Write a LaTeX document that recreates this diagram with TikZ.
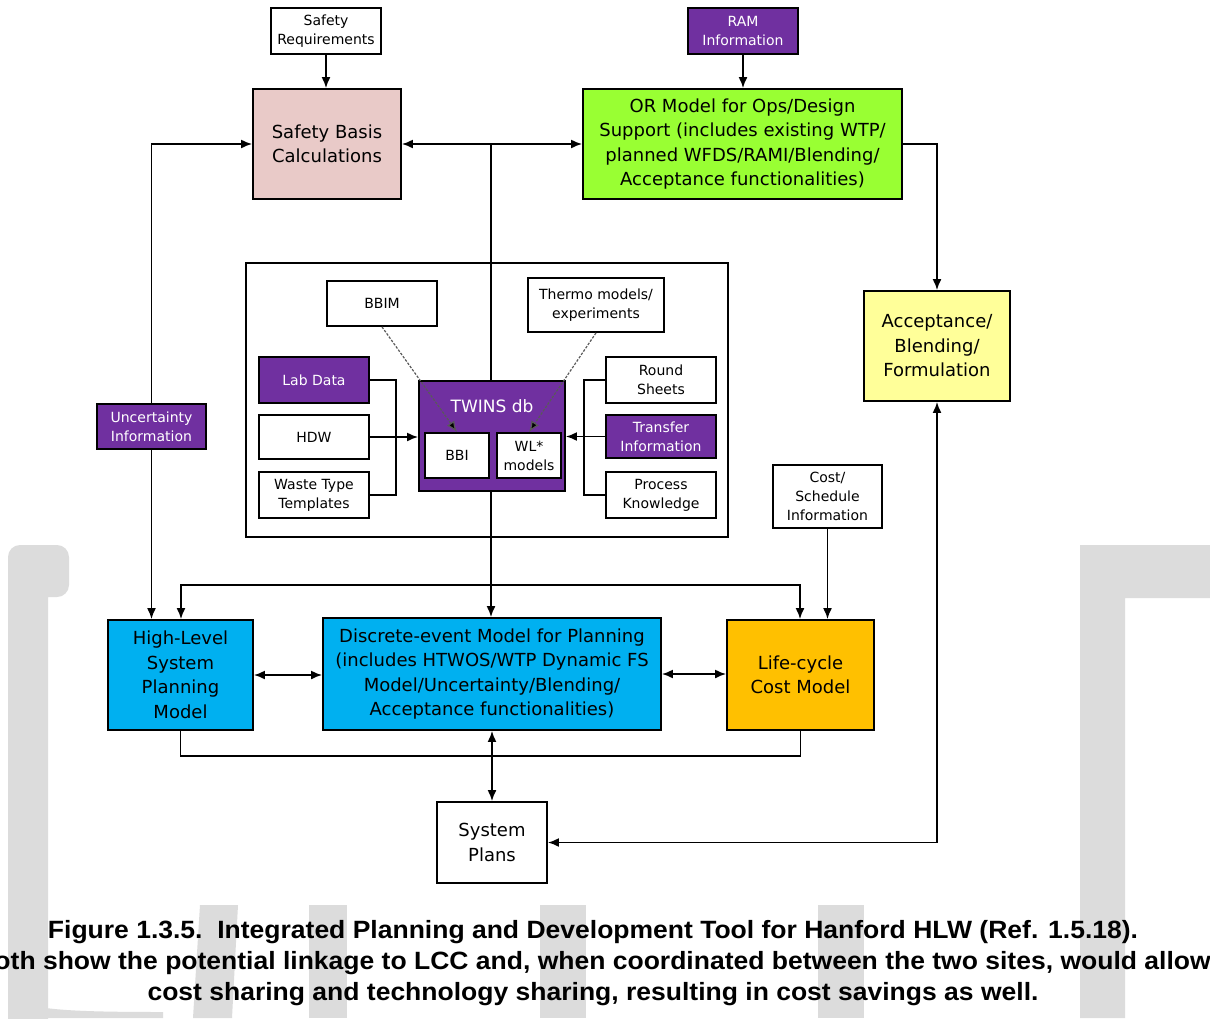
\documentclass[tikz,border=0pt]{standalone}
\usepackage{fontspec}
\usetikzlibrary{arrows.meta}
\newfontfamily\bxfont{DejaVu Sans}
\newfontfamily\capfont[FakeStretch=1.06]{Liberation Sans}
\definecolor{pinkbox}{HTML}{E9CAC8}
\definecolor{greenbox}{HTML}{99FF33}
\definecolor{purplebox}{HTML}{7030A0}
\definecolor{yellowbox}{HTML}{FFFF99}
\definecolor{bluebox}{HTML}{00B0F0}
\definecolor{orangebox}{HTML}{FFC000}
\definecolor{wmgray}{HTML}{DCDCDC}
\begin{document}
\begin{tikzpicture}[x=1pt,y=-1pt, >={Latex[length=11pt,width=9pt]},
  base/.style={draw=black,line width=1.8pt,inner sep=0pt,align=center,text=black},
  big/.style={base,font=\bxfont\fontsize{18}{24.5}\selectfont},
  small/.style={base,font=\bxfont\fontsize{14}{19}\selectfont},
  sz/.style 2 args={minimum width=#1pt,minimum height=#2pt},
  purp/.style={fill=purplebox,text=white},
  conn/.style={line width=1.8pt,draw=black},
  dots/.style={line width=1.2pt,draw=black!65,dash pattern=on 2.5pt off 1.5pt},
  wm/.style={fill=wmgray},
  captext/.style={font=\capfont\bfseries\fontsize{25}{31}\selectfont,anchor=base,inner sep=0pt}]
\useasboundingbox (0,0) rectangle (1210,1018);
\fill[white] (0,0) rectangle (1210,1018);
% watermark shapes
\fill[wm,rounded corners=12pt] (8,1030) -- (8,545) -- (69,545) -- (69,597) [sharp corners] -- (48,597) -- (48,1030) -- cycle;
\fill[wm] (8,985) .. controls (10,1008) and (40,1012) .. (163,1012) -- (163,1018) -- (8,1018) -- cycle;
\fill[wm] (1080,545) -- (1210,545) -- (1210,598) -- (1125,598) -- (1125,1018) -- (1080,1018) -- cycle;
\fill[wm] (200,905) -- (238,905) -- (232,1018) -- (193,1018) -- cycle;
\fill[wm] (309,905) -- (347,905) -- (347,1018) -- (309,1018) -- cycle;
\fill[wm] (540,905) -- (586,905) -- (586,1018) -- (540,1018) -- cycle;
\fill[wm] (818,905) -- (864,905) -- (864,1018) -- (818,1018) -- cycle;

% top row
\node[small,sz={110}{46},fill=white] (sreq) at (326,31) {Safety\\Requirements};
\node[big,sz={148}{110},fill=pinkbox] (sbc) at (327,144) {Safety Basis\\Calculations};
\node[small,sz={110}{46},purp] (ram) at (743,31) {RAM\\Information};
\node[big,sz={319}{110},fill=greenbox] (orm) at (742.5,144) {OR Model for Ops/Design\\Support (includes existing WTP/\\planned WFDS/RAMI/Blending/\\Acceptance functionalities)};
\node[big,sz={146}{110},fill=yellowbox] (acc) at (937,346) {Acceptance/\\Blending/\\Formulation};
\node[small,sz={109}{45},purp] (unc) at (151.5,426.5) {Uncertainty\\Information};

% inner frame
\node[base,sz={482}{274}] (frame) at (487,400) {};
\node[small,sz={110}{45},fill=white] (bbim) at (382,303.5) {BBIM};
\node[small,sz={136}{54},fill=white] (thermo) at (596,305) {Thermo models/\\experiments};
\node[small,sz={110}{46},purp] (lab) at (314,380) {Lab Data};
\node[small,sz={110}{44},fill=white] (hdw) at (314,437) {HDW};
\node[small,sz={110}{46},fill=white] (wtt) at (314,495) {Waste Type\\Templates};
\node[small,sz={110}{46},fill=white] (round) at (661,380) {Round\\Sheets};
\node[small,sz={110}{43},purp] (transfer) at (661,436.5) {Transfer\\Information};
\node[small,sz={110}{46},fill=white] (process) at (661,495) {Process\\Knowledge};

\coordinate (j1) at (491,144);
\draw[conn] (j1) -- (j1 |- frame.north);
\draw[conn] (j1 |- frame.north) -- (j1 |- 0,381);
\node[base,sz={146}{110},purp] (twins) at (492,436) {};
\node[font=\bxfont\fontsize{17}{20}\selectfont,text=white,inner sep=0pt] (twinst) at (492,406) {TWINS db};
\node[small,sz={64}{45},fill=white] (bbi) at (457,455.5) {BBI};
\node[small,sz={64}{45},fill=white] (wl) at (529,455.5) {WL*\\models};

% cost schedule
\node[small,sz={109}{63},fill=white] (cost) at (827.5,496.5) {Cost/\\Schedule\\Information};

% bottom row
\node[big,sz={145}{110},fill=bluebox] (hl) at (180.5,675) {High-Level\\System\\Planning\\Model};
\node[big,sz={338}{112},fill=bluebox] (de) at (492,674) {Discrete-event Model for Planning\\(includes HTWOS/WTP Dynamic FS\\Model/Uncertainty/Blending/\\Acceptance functionalities)};
\node[big,sz={147}{110},fill=orangebox] (lcc) at (800.5,675) {Life-cycle\\Cost Model};
\node[big,sz={110}{81},fill=white] (sp) at (492,842.5) {System\\Plans};

% connectors
\draw[conn,->] (sreq.south) -- (sreq.south |- sbc.north);
\draw[conn,->] (ram.south) -- (ram.south |- orm.north);
\draw[conn,<->] (sbc.east) -- (orm.west);
\draw[conn,->] (j1 |- twins.south) -- (j1 |- de.north);
\draw[conn,->] (unc.north) |- (sbc.west);
\draw[conn,->] (unc.south) -- (unc.south |- hl.north);
\draw[conn,->] (orm.east) -| (acc.north);
\draw[conn,<->] (sp.east) -| (acc.south);
\draw[conn,->] (cost.south) -- (cost.south |- lcc.north);
\coordinate (t1) at (181,585);
\coordinate (t2) at (800,585);
\draw[conn,<->] (t1 |- hl.north) -- (t1) -- (t2) -- (t2 |- lcc.north);
\draw[conn] (hl.south) -- ++(0,25) -| (lcc.south);
\draw[conn,<->] (de.south) -- (sp.north);
\draw[conn,<->] (hl.east) -- (hl.east -| de.west);
\draw[conn,<->] (de.east) -- (de.east -| lcc.west);
\draw[conn] (lab.east) -- ++(26,0) |- (wtt.east);
\draw[conn,->] (hdw.east) -- (hdw.east -| twins.west);
\draw[conn] (round.west) -- ++(-21,0) |- (process.west);
\draw[conn,->] (transfer.west) -- (transfer.west -| twins.east);
\draw[dots,-{Latex[length=11pt,width=9pt,fill=black]}] (bbim.south) -- (bbi.north);
\draw[dots,-{Latex[length=11pt,width=9pt,fill=black]}] (thermo.south) -- (wl.north);

% caption
\node[captext] (cap1) at (593,938) {Figure 1.3.5.\ \ Integrated Planning and Development Tool for Hanford HLW (Ref. 1.5.18).};
\node[captext] (cap2) at (593,969) {Both show the potential linkage to LCC and, when coordinated between the two sites, would allow};
\node[captext] (cap3) at (593,1000) {cost sharing and technology sharing, resulting in cost savings as well.};
\end{tikzpicture}
\end{document}
